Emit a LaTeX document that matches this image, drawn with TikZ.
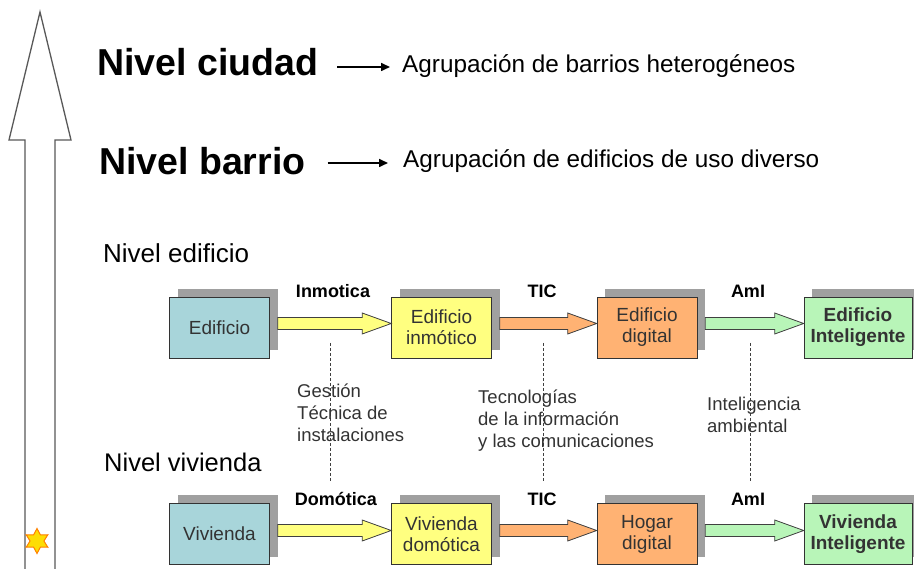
\documentclass[tikz,border=0pt]{standalone}
\usepackage{fontspec}
\setmainfont{Liberation Sans}
\usetikzlibrary{arrows.meta, calc, shapes.geometric, shadows}
\definecolor{azul}{RGB}{168,213,218}
\definecolor{amarillo}{RGB}{255,255,128}
\definecolor{naranja}{RGB}{255,178,115}
\definecolor{verde}{RGB}{184,245,184}
\definecolor{sombra}{RGB}{160,160,160}
\tikzset{%
    caja/.style = {draw=black!80, rectangle, semithick, minimum width=100pt,
        minimum height=61pt, align=center, inner sep=0pt, text=black!80,
        font=\fontsize{19}{21}\selectfont,
        drop shadow={shadow xshift=8pt, shadow yshift=8pt, fill=sombra, opacity=1}},
    flechabloque/.style = {draw=black!75, line width=0.8pt},
    etiqueta/.style = {anchor=base, inner sep=0pt, font=\fontsize{18}{20}\selectfont\bfseries},
    nota/.style = {anchor=base west, inner sep=0pt, align=left, text=black!80,
        font=\fontsize{18.5}{22}\selectfont},
    guia/.style = {draw=black!75, line width=0.8pt, dash pattern=on 3pt off 2pt},
    flechita/.style = {line width=1.6pt, -{Triangle[length=9pt, width=8pt]}}
}
% flecha gruesa entre dos cajas
\newcommand{\flechagorda}[4]{%
  \draw[flechabloque, fill=#3] let \p1=($(#1.east)+(8,0)$), \p2=(#2.west) in
    (\x1,\y1+#4+6pt) -- (\x2-29pt,\y1+#4+6pt) -- (\x2-29pt,\y1+#4+10.5pt)
    -- (\x2,\y1+#4) -- (\x2-29pt,\y1+#4-10.5pt) -- (\x2-29pt,\y1+#4-6pt)
    -- (\x1,\y1+#4-6pt) -- cycle;}

\begin{document}
\begin{tikzpicture}[x=1pt, y=-1pt]
    \useasboundingbox[fill=white] (0,0) rectangle (914,569);

    % flecha vertical
    \draw[draw=black!65, line width=1.3pt, fill=white]
        (25,572) -- (25,140) -- (9,140) -- (40,12) -- (71,140) -- (55,140) -- (55,572);
    \node[star, star points=6, star point ratio=1.8, fill=yellow!80!orange, draw=orange,
        line width=1pt, minimum size=25pt, inner sep=0pt] (estrella) at (37,541) {};

    % niveles superiores
    \node[anchor=base west, inner sep=0pt, font=\fontsize{37.5}{40}\selectfont\bfseries]
        (ciudad) at (97,76) {Nivel ciudad};
    \node[anchor=base west, inner sep=0pt, font=\fontsize{24.3}{26}\selectfont]
        (agrupc) at (402,73) {Agrupación de barrios heterogéneos};
    \node[anchor=base west, inner sep=0pt, font=\fontsize{37.5}{40}\selectfont\bfseries]
        (barrio) at (99,175) {Nivel barrio};
    \node[anchor=base west, inner sep=0pt, font=\fontsize{24.3}{26}\selectfont]
        (agrupb) at (403,168) {Agrupación de edificios de uso diverso};
    \draw[flechita] ($(ciudad.base east)+(19,-9)$) -- ($(agrupc.base west)+(-12,-6)$);
    \draw[flechita] ($(barrio.base east)+(22,-12)$) -- ($(agrupb.base west)+(-15,-5)$);

    \node[anchor=base west, inner sep=0pt, font=\fontsize{26}{28}\selectfont]
        (niveled) at (103,263) {Nivel edificio};
    \node[anchor=base west, inner sep=0pt, font=\fontsize{25.5}{28}\selectfont]
        (nivelviv) at (104,472) {Nivel vivienda};

    % fila edificio
    \node[caja, fill=azul] (edif) at (219.5,327.5) {Edificio};
    \node[caja, fill=amarillo] (edifinm) at (441.5,327.5) {Edificio\\inmótico};
    \node[caja, fill=naranja] (edifdig) at (647,327.5) {Edificio\\digital};
    \node[caja, fill=verde, minimum width=108pt, font=\fontsize{19}{21}\selectfont\bfseries]
        (edifint) at (858,327.5) {Edificio\\Inteligente};
    \flechagorda{edif}{edifinm}{amarillo}{4pt}
    \flechagorda{edifinm}{edifdig}{naranja}{4pt}
    \flechagorda{edifdig}{edifint}{verde}{4pt}
    \node[etiqueta] (inmotica) at (333,298) {Inmotica};
    \node[etiqueta] (tic1) at (542,298) {TIC};
    \node[etiqueta] (ami1) at (748,298) {AmI};

    % fila vivienda
    \node[caja, fill=azul] (viv) at (219.5,534) {Vivienda};
    \node[caja, fill=amarillo] (vivdom) at (441.5,534) {Vivienda\\domótica};
    \node[caja, fill=naranja] (hogar) at (647,534) {Hogar\\digital};
    \node[caja, fill=verde, minimum width=108pt, font=\fontsize{19}{21}\selectfont\bfseries]
        (vivint) at (858,534) {Vivienda\\Inteligente};
    \flechagorda{viv}{vivdom}{amarillo}{3.5pt}
    \flechagorda{vivdom}{hogar}{naranja}{3.5pt}
    \flechagorda{hogar}{vivint}{verde}{3.5pt}
    \node[etiqueta] (domotica) at (336,505) {Domótica};
    \node[etiqueta] (tic2) at (542,505) {TIC};
    \node[etiqueta] (ami2) at (748,505) {AmI};

    % lineas guia y notas
    \coordinate (g1a) at (330,343); \coordinate (g1b) at (330,482);
    \coordinate (g2a) at (543,343); \coordinate (g2b) at (543,482);
    \coordinate (g3a) at (750,343); \coordinate (g3b) at (750,482);
    \draw[guia] (g1a) -- (g1b);
    \draw[guia] (g2a) -- (g2b);
    \draw[guia] (g3a) -- (g3b);
    \node[nota] (gestion) at (297,442) {Gestión\\Técnica de\\instalaciones};
    \node[nota] (tecno) at (478,448) {Tecnologías\\de la información\\y las comunicaciones};
    \node[nota] (intel) at (707,433) {Inteligencia\\ambiental};
\end{tikzpicture}
\end{document}
